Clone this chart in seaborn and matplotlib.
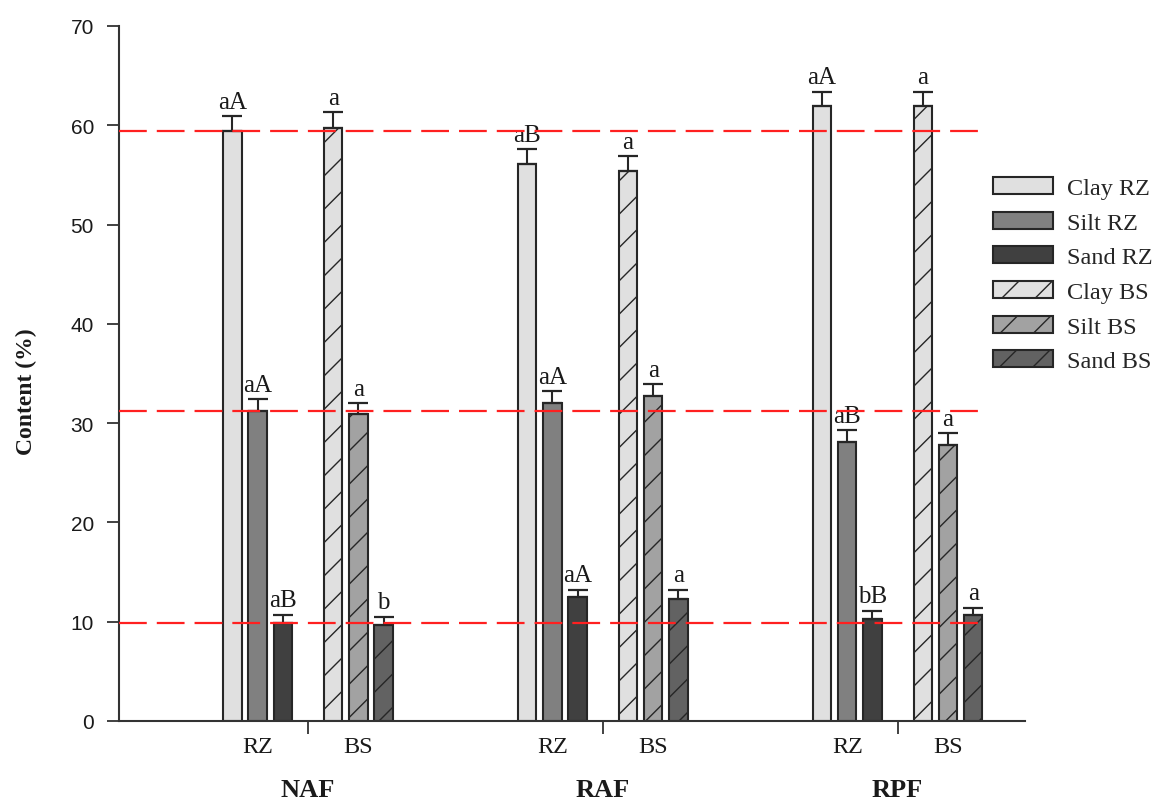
import numpy as np
import pandas as pd
import matplotlib
matplotlib.use("Agg")
import matplotlib.pyplot as plt
import seaborn as sns
from matplotlib.patches import Patch
from matplotlib.transforms import blended_transform_factory

# ---- data -----------------------------------------------------------------
sites = ["NAF", "RAF", "RPF"]
zones = ["RZ", "BS"]
fractions = ["Clay", "Silt", "Sand"]

# mean particle-size content (%), ordered Clay, Silt, Sand
naf_rz = [59.4, 31.2, 9.9]
naf_bs = [59.7, 30.9, 9.7]
raf_rz = [56.1, 32.0, 12.5]
raf_bs = [55.4, 32.7, 12.3]
rpf_rz = [61.9, 28.1, 10.3]
rpf_bs = [61.9, 27.8, 10.7]

# standard errors
naf_rz_err = [1.5, 1.2, 0.8]
naf_bs_err = [1.6, 1.1, 0.8]
raf_rz_err = [1.5, 1.2, 0.7]
raf_bs_err = [1.5, 1.2, 0.9]
rpf_rz_err = [1.5, 1.2, 0.8]
rpf_bs_err = [1.5, 1.2, 0.7]

# significance letters
naf_rz_sig = ["aA", "aA", "aB"]
naf_bs_sig = ["a", "a", "b"]
raf_rz_sig = ["aB", "aA", "aA"]
raf_bs_sig = ["a", "a", "a"]
rpf_rz_sig = ["aA", "aB", "bB"]
rpf_bs_sig = ["a", "a", "a"]

# reference levels: rhizosphere values of the natural forest
ref_levels = naf_rz

values = {("NAF", "RZ"): naf_rz, ("NAF", "BS"): naf_bs,
          ("RAF", "RZ"): raf_rz, ("RAF", "BS"): raf_bs,
          ("RPF", "RZ"): rpf_rz, ("RPF", "BS"): rpf_bs}
errors = {("NAF", "RZ"): naf_rz_err, ("NAF", "BS"): naf_bs_err,
          ("RAF", "RZ"): raf_rz_err, ("RAF", "BS"): raf_bs_err,
          ("RPF", "RZ"): rpf_rz_err, ("RPF", "BS"): rpf_bs_err}
signif = {("NAF", "RZ"): naf_rz_sig, ("NAF", "BS"): naf_bs_sig,
          ("RAF", "RZ"): raf_rz_sig, ("RAF", "BS"): raf_bs_sig,
          ("RPF", "RZ"): rpf_rz_sig, ("RPF", "BS"): rpf_bs_sig}

# ---- layout ---------------------------------------------------------------
first_center = 7.5
group_step = 11.7
group_centers = [first_center + i * group_step for i in range(len(sites))]

rows = []
for gi, site in enumerate(sites):
    for zone in zones:
        for k, frac in enumerate(fractions):
            offset = -(3 - k) if zone == "RZ" else (k + 1)
            rows.append(dict(site=site, zone=zone, fraction=frac,
                             series=f"{frac} {zone}",
                             pos=group_centers[gi] + offset,
                             value=values[(site, zone)][k],
                             err=errors[(site, zone)][k],
                             sig=signif[(site, zone)][k]))
df = pd.DataFrame(rows)

series_order = [f"{f} {z}" for z in zones for f in fractions]
palette = {"Clay RZ": "#e0e0e0", "Silt RZ": "#808080", "Sand RZ": "#404040",
           "Clay BS": "#e0e0e0", "Silt BS": "#a2a2a2", "Sand BS": "#626262"}
edge = "#262626"

# ---- style ----------------------------------------------------------------
sns.set_style("ticks")
plt.rcParams["font.family"] = ["Liberation Serif", "DejaVu Serif"]
plt.rcParams["hatch.linewidth"] = 1.0
plt.rcParams["hatch.color"] = edge
serif = "Liberation Serif"
sans = "Liberation Sans"
txt = "#1a1a1a"

fig = plt.figure(figsize=(11.72, 8.04), dpi=100)
ax = fig.add_axes([119 / 1172, 82 / 804, (1025 - 119) / 1172, (722 - 27) / 804])

sns.barplot(data=df, x="pos", y="value", hue="series", hue_order=series_order,
            palette=palette, native_scale=True, dodge=False, width=0.73,
            edgecolor=edge, linewidth=1.5, errorbar=None, legend=False,
            ax=ax, zorder=2)

# hatch the bulk-soil bars
bs_pos = set(np.round(df.loc[df.zone == "BS", "pos"], 2))
for p in ax.patches:
    cx = round(p.get_x() + p.get_width() / 2, 2)
    if cx in bs_pos:
        p.set_hatch("/")

# upper error bars
ax.errorbar(df["pos"], df["value"], yerr=[np.zeros(len(df)), df["err"]],
            fmt="none", ecolor=edge, elinewidth=1.5, capsize=7, capthick=1.6,
            zorder=3)

# significance letters
for _, r in df.iterrows():
    ax.annotate(r["sig"], (r["pos"], r["value"] + r["err"]),
                xytext=(0, 2.5), textcoords="offset points",
                ha="center", va="bottom", fontsize=18, family=serif,
                color=txt, zorder=4)

# dashed reference lines
xmax_frac = (985 - 119) / (1025 - 119)
for lvl in ref_levels:
    ax.axhline(lvl, xmin=0, xmax=xmax_frac, color="#ff2020", lw=1.6,
               dashes=(12.5, 4.5), zorder=5)

# axes
ax.set_xlim(0, (1025 - 119) / 25.2)
ax.set_ylim(0, 70)
ax.set_yticks(np.arange(0, 71, 10))
ax.set_yticklabels([str(v) for v in range(0, 71, 10)], family=sans,
                   fontsize=15, color=txt)
ax.set_xticks(group_centers)
ax.set_xticklabels([""] * len(group_centers))
sub_centers = [c + d for c in group_centers for d in (-2, 2)]
ax.set_xticks(sub_centers, minor=True)
ax.set_xticklabels(zones * len(sites), minor=True, family=serif,
                   fontsize=17.5, color=txt)
ax.tick_params(axis="x", which="major", direction="out", length=9,
               width=1.3, color="#333333")
ax.tick_params(axis="x", which="minor", length=0, pad=11)
ax.tick_params(axis="y", direction="out", length=9, width=1.3,
               color="#333333", pad=9)
ax.set_xlabel("")
ax.set_ylabel("")
sns.despine(ax=ax)
for s in ("left", "bottom"):
    ax.spines[s].set_linewidth(1.5)
    ax.spines[s].set_color("#333333")

trans = blended_transform_factory(ax.transData, ax.transAxes)
for gc, name in zip(group_centers, sites):
    ax.text(gc, -0.098, name, transform=trans, ha="center", va="center",
            fontsize=19, fontweight="bold", family=serif, color=txt)

fig.text(26 / 1172, 1 - 392 / 804, "Content (%)", rotation=90,
         ha="center", va="center", fontsize=17, fontweight="bold",
         family=serif, color=txt)

# legend
handles = [Patch(facecolor=palette[s], edgecolor=edge, linewidth=1.5,
                 hatch="/" if s.endswith("BS") else None)
           for s in series_order]
fig.legend(handles, series_order, loc="upper left",
           bbox_to_anchor=(993 / 1172, 1 - 178 / 804), frameon=False,
           prop={"family": serif, "size": 17.5}, handlelength=2.45,
           handleheight=0.7, labelspacing=0.52, handletextpad=0.6,
           borderpad=0, borderaxespad=0)

fig.savefig("out.png", dpi=100)
